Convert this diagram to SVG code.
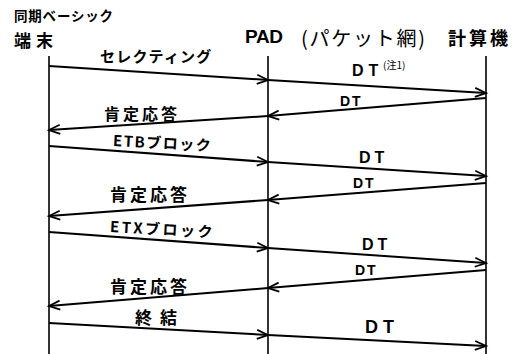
<svg xmlns="http://www.w3.org/2000/svg" width="520" height="354" viewBox="0 0 520 354">
<style>
.life{stroke:#000;stroke-width:1.6;fill:none}
.msg{stroke:#000;stroke-width:2;fill:none;marker-end:url(#ah)}
.jp{font-family:"Noto Sans CJK JP","Noto Sans CJK SC",sans-serif;fill:#000;font-weight:bold}
.jpn{font-family:"Noto Sans CJK JP","Noto Sans CJK SC",sans-serif;fill:#000;font-weight:normal}
.lat{font-family:"Liberation Sans",sans-serif;fill:#000;font-weight:bold}
</style>
<defs>
<marker id="ah" markerUnits="userSpaceOnUse" markerWidth="14" markerHeight="12" refX="12" refY="6" orient="auto" overflow="visible">
<path d="M1,1.5 L12,6 L1,10.5" fill="none" stroke="#000" stroke-width="1.8"/>
</marker>
</defs>
<rect width="520" height="354" fill="#fff"/>
<g id="terminal">
<text class="jp" x="14" y="21" font-size="13.5" letter-spacing="0.8">同期ベーシック</text>
<text class="jp" x="14" y="47" font-size="17" letter-spacing="5">端末</text>
<line class="life" x1="49" y1="56" x2="49" y2="354"/>
</g>
<g id="pad">
<text class="lat" x="245" y="43" font-size="19" textLength="38">PAD</text>
<line class="life" x1="268" y1="56" x2="268" y2="354"/>
</g>
<g id="network">
<text class="jpn" x="301" y="46" font-size="20" textLength="124">(パケット網)</text>
</g>
<g id="computer">
<text class="jp" x="448" y="45" font-size="18" letter-spacing="3">計算機</text>
<line class="life" x1="486" y1="56" x2="486" y2="354"/>
</g>
<g id="connectors">
<line class="msg" x1="49" y1="66" x2="268" y2="80"/>
<text class="jp" x="100" y="62" font-size="15" letter-spacing="1.2">セレクティング</text>
<line class="msg" x1="268" y1="80" x2="486" y2="93"/>
<text class="lat" x="352" y="76" font-size="16" letter-spacing="5">DT</text>
<text class="jpn" x="383" y="69" font-size="10">(注1)</text>
<line class="msg" x1="486" y1="98" x2="268" y2="116"/>
<text class="lat" x="340" y="106" font-size="14" letter-spacing="2">DT</text>
<line class="msg" x1="268" y1="116" x2="49" y2="130"/>
<text class="jp" x="104" y="120" font-size="16" letter-spacing="3">肯定応答</text>

<line class="msg" x1="49" y1="146" x2="268" y2="162"/>
<text class="jp" x="113" y="149" font-size="15" letter-spacing="1.5" transform="rotate(3 170 143)">ETBブロック</text>
<line class="msg" x1="268" y1="162" x2="486" y2="176"/>
<text class="lat" x="359" y="163" font-size="16" letter-spacing="4">DT</text>
<line class="msg" x1="486" y1="183" x2="268" y2="200"/>
<text class="lat" x="353" y="188" font-size="14" letter-spacing="2">DT</text>
<line class="msg" x1="268" y1="200" x2="49" y2="216"/>
<text class="jp" x="110" y="201" font-size="17" letter-spacing="3">肯定応答</text>

<line class="msg" x1="49" y1="232" x2="268" y2="248"/>
<text class="jp" x="110" y="235" font-size="15" letter-spacing="2.5" transform="rotate(3 165 229)">ETXブロック</text>
<line class="msg" x1="268" y1="248" x2="486" y2="263"/>
<text class="lat" x="362" y="250" font-size="16" letter-spacing="4">DT</text>
<line class="msg" x1="486" y1="270" x2="268" y2="288"/>
<text class="lat" x="355" y="275" font-size="14" letter-spacing="2">DT</text>
<line class="msg" x1="268" y1="288" x2="49" y2="306"/>
<text class="jp" x="110" y="293" font-size="17" letter-spacing="3">肯定応答</text>

<line class="msg" x1="49" y1="323" x2="268" y2="335"/>
<text class="jp" x="135" y="324" font-size="17" letter-spacing="8">終結</text>
<line class="msg" x1="268" y1="335" x2="486" y2="346"/>
<text class="lat" x="365" y="333" font-size="18" letter-spacing="5">DT</text>
</g>
</svg>
